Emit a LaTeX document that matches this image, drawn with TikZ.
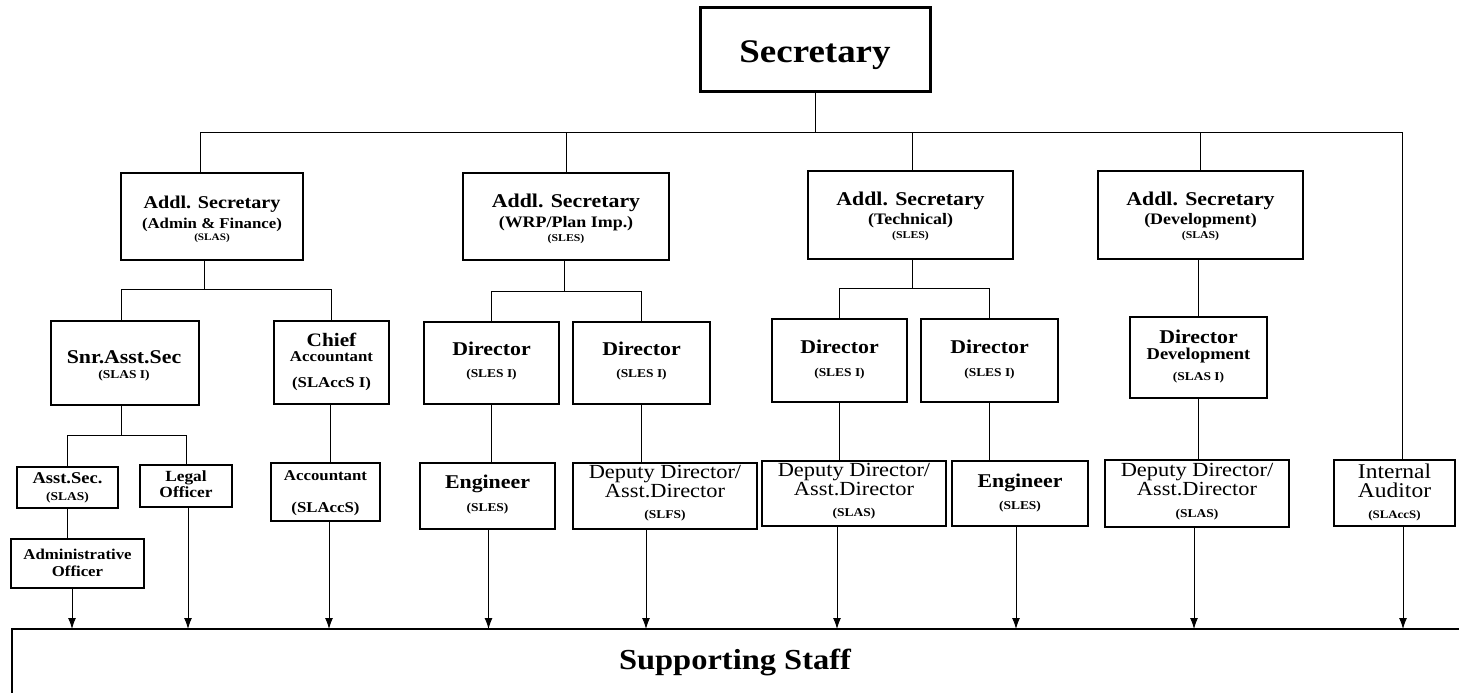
\documentclass[tikz,border=0pt]{standalone}
\usepackage{fontspec}
\setmainfont{Liberation Serif}[FakeStretch=1.12]
\usetikzlibrary{arrows.meta}
\newcommand\fb[1]{\bfseries\fontsize{#1}{#1}\selectfont}
\newcommand\fr[1]{\mdseries\fontsize{#1}{#1}\selectfont}
\newcommand\orgbox[5]{\node[bx, minimum width={(#4)-(#2)}, minimum height={(#5)-(#3)}] (#1) at ({((#2)+(#4))/2},{((#3)+(#5))/2}) {};}
\newcommand\tl[5]{\node[tx] (#1) at (#2,#3) {#4#5};}
\begin{document}
\begin{tikzpicture}[x=1pt,y=-1pt,
  bx/.style={draw, line width=1.1pt, rectangle, inner sep=0pt, outer sep=0pt},
  ln/.style={line width=1pt},
  arr/.style={line width=1pt, -{Latex[length=11pt,width=8pt]}},
  tx/.style={anchor=base, inner sep=0pt}]
\clip (0,0) rectangle (1459,693);
\fill[white] (0,0) rectangle (1459,693);
% boxes
\orgbox{sec}{700}{8}{930}{91}
\draw[line width=3pt] (sec.north west) rectangle (sec.south east);
\orgbox{a1}{121}{173}{303}{260}
\orgbox{a2}{463}{173}{669}{260}
\orgbox{a3}{808}{171}{1013}{259}
\orgbox{a4}{1098}{171}{1303}{259}
\orgbox{snr}{51}{321}{199}{405}
\orgbox{chf}{274}{321}{389}{404}
\orgbox{d1}{424}{322}{559}{404}
\orgbox{d2}{573}{322}{710}{404}
\orgbox{d3}{772}{319}{907}{402}
\orgbox{d4}{921}{319}{1058}{402}
\orgbox{dd}{1130}{317}{1267}{398}
\orgbox{as}{17}{467}{118}{508}
\orgbox{lo}{140}{465}{232}{507}
\orgbox{ao}{11}{539}{144}{588}
\orgbox{acc}{271}{463}{380}{521}
\orgbox{e1}{420}{463}{555}{529}
\orgbox{dp1}{573}{463}{757}{529}
\orgbox{dp2}{762}{461}{946}{526}
\orgbox{e2}{952}{461}{1088}{526}
\orgbox{dp3}{1105}{460}{1289}{527}
\orgbox{ia}{1334}{460}{1455}{526}
\orgbox{staff}{12}{629}{1480}{720}
% texts
\tl{tsec}{815}{63}{\fb{33}}{Secretary}
\tl{ta1a}{212}{208}{\fb{18}}{Addl. Secretary}
\tl{ta1b}{212}{228}{\fb{15}}{(Admin \& Finance)}
\tl{ta1c}{212}{240}{\fb{10}}{(SLAS)}
\tl{ta2a}{566}{207}{\fb{19.5}}{Addl. Secretary}
\tl{ta2b}{566}{227}{\fb{16}}{(WRP/Plan Imp.)}
\tl{ta2c}{566}{241}{\fb{10.5}}{(SLES)}
\tl{ta3a}{910.5}{205}{\fb{19.5}}{Addl. Secretary}
\tl{ta3b}{910.5}{224}{\fb{16}}{(Technical)}
\tl{ta3c}{910.5}{238}{\fb{10.5}}{(SLES)}
\tl{ta4a}{1200.5}{205}{\fb{19.5}}{Addl. Secretary}
\tl{ta4b}{1200.5}{224}{\fb{16}}{(Development)}
\tl{ta4c}{1200.5}{238}{\fb{10.5}}{(SLAS)}
\tl{tsnra}{124}{363}{\fb{19.5}}{Snr.Asst.Sec}
\tl{tsnrb}{124}{378}{\fb{12}}{(SLAS I)}
\tl{tchfa}{331.5}{346}{\fb{19}}{Chief}
\tl{tchfb}{331.5}{361}{\fb{15}}{Accountant}
\tl{tchfc}{331.5}{387}{\fb{15}}{(SLAccS I)}
\tl{td1a}{491.5}{355}{\fb{19.5}}{Director}
\tl{td1b}{491.5}{377}{\fb{12}}{(SLES I)}
\tl{td2a}{641.5}{355}{\fb{19.5}}{Director}
\tl{td2b}{641.5}{377}{\fb{12}}{(SLES I)}
\tl{td3a}{839.5}{353}{\fb{19.5}}{Director}
\tl{td3b}{839.5}{376}{\fb{12}}{(SLES I)}
\tl{td4a}{989.5}{353}{\fb{19.5}}{Director}
\tl{td4b}{989.5}{376}{\fb{12}}{(SLES I)}
\tl{tdda}{1198.5}{343}{\fb{19.5}}{Director}
\tl{tddb}{1198.5}{359}{\fb{16.5}}{Development}
\tl{tddc}{1198.5}{380}{\fb{12}}{(SLAS I)}
\tl{tasa}{67.5}{483}{\fb{16.5}}{Asst.Sec.}
\tl{tasb}{67.5}{500}{\fb{12}}{(SLAS)}
\tl{tloa}{186}{481}{\fb{15.5}}{Legal}
\tl{tlob}{186}{497}{\fb{15.5}}{Officer}
\tl{taoa}{77.5}{559}{\fb{15}}{Administrative}
\tl{taob}{77.5}{576}{\fb{15}}{Officer}
\tl{tacca}{325.5}{480}{\fb{15}}{Accountant}
\tl{taccb}{325.5}{512}{\fb{15}}{(SLAccS)}
\tl{te1a}{487.5}{488}{\fb{19.5}}{Engineer}
\tl{te1b}{487.5}{511}{\fb{12}}{(SLES)}
\tl{tdp1a}{665}{478}{\fr{20}}{Deputy Director/}
\tl{tdp1b}{665}{497}{\fr{20}}{Asst.Director}
\tl{tdp1c}{665}{518}{\fb{12}}{(SLFS)}
\tl{tdp2a}{854}{476}{\fr{20}}{Deputy Director/}
\tl{tdp2b}{854}{495}{\fr{20}}{Asst.Director}
\tl{tdp2c}{854}{516}{\fb{12}}{(SLAS)}
\tl{te2a}{1020}{487}{\fb{19.5}}{Engineer}
\tl{te2b}{1020}{509}{\fb{12}}{(SLES)}
\tl{tdp3a}{1197}{476}{\fr{20}}{Deputy Director/}
\tl{tdp3b}{1197}{495}{\fr{20}}{Asst.Director}
\tl{tdp3c}{1197}{517}{\fb{12}}{(SLAS)}
\tl{tiaa}{1394.5}{478}{\fr{21}}{Internal}
\tl{tiab}{1394.5}{497}{\fr{21}}{Auditor}
\tl{tiac}{1394.5}{518}{\fb{11.5}}{(SLAccS)}
\tl{tstaff}{735}{669}{\fb{29}}{Supporting Staff}
% connectors
\draw[ln] (sec.south) -- ++(0,41) coordinate (bus);
\draw[ln] (bus) -| ([xshift=-12pt]a1.north);
\draw[ln] (bus) -| (a2.north);
\draw[ln] (bus) -| ([xshift=1.5pt]a3.north);
\draw[ln] (bus) -| (a4.north);
\draw[ln] (bus) -| ([xshift=8pt]ia.north);
\draw[ln] ([xshift=-8pt]a1.south) -- ++(0,29) coordinate (b1);
\draw[ln] (b1) -| ([xshift=-4pt]snr.north);
\draw[ln] (b1) -| (chf.north);
\draw[ln] ([xshift=-2pt]a2.south) -- ++(0,31) coordinate (b2);
\draw[ln] (b2) -| (d1.north);
\draw[ln] (b2) -| (d2.north);
\draw[ln] ([xshift=2pt]a3.south) -- ++(0,29) coordinate (b3);
\draw[ln] (b3) -| (d3.north);
\draw[ln] (b3) -| (d4.north);
\draw[ln] (a4.south -| dd.north) -- (dd.north);
\draw[ln] ([xshift=-4pt]snr.south) -- ++(0,30) coordinate (b4);
\draw[ln] (b4) -| (as.north);
\draw[ln] (b4) -| (lo.north);
\draw[ln] (as.south) -- (as.south |- ao.north);
\draw[ln] ([xshift=-1.5pt]chf.south) -- ([xshift=-1.5pt]chf.south |- acc.north);
\draw[ln] (d1.south) -- (d1.south |- e1.north);
\draw[ln] (d2.south) -- (d2.south |- dp1.north);
\draw[ln] (d3.south) -- (d3.south |- dp2.north);
\draw[ln] (d4.south) -- (d4.south |- e2.north);
\draw[ln] (dd.south) -- (dd.south |- dp3.north);
% arrows to supporting staff
\draw[arr] ([xshift=-5.5pt]ao.south) -- ([xshift=-5.5pt]ao.south |- staff.north);
\draw[arr] ([xshift=2pt]lo.south) -- ([xshift=2pt]lo.south |- staff.north);
\draw[arr] ([xshift=3.5pt]acc.south) -- ([xshift=3.5pt]acc.south |- staff.north);
\draw[arr] ([xshift=1pt]e1.south) -- ([xshift=1pt]e1.south |- staff.north);
\draw[arr] ([xshift=-19pt]dp1.south) -- ([xshift=-19pt]dp1.south |- staff.north);
\draw[arr] ([xshift=-17pt]dp2.south) -- ([xshift=-17pt]dp2.south |- staff.north);
\draw[arr] ([xshift=-4pt]e2.south) -- ([xshift=-4pt]e2.south |- staff.north);
\draw[arr] ([xshift=-3pt]dp3.south) -- ([xshift=-3pt]dp3.south |- staff.north);
\draw[arr] ([xshift=8.5pt]ia.south) -- ([xshift=8.5pt]ia.south |- staff.north);
\end{tikzpicture}
\end{document}
